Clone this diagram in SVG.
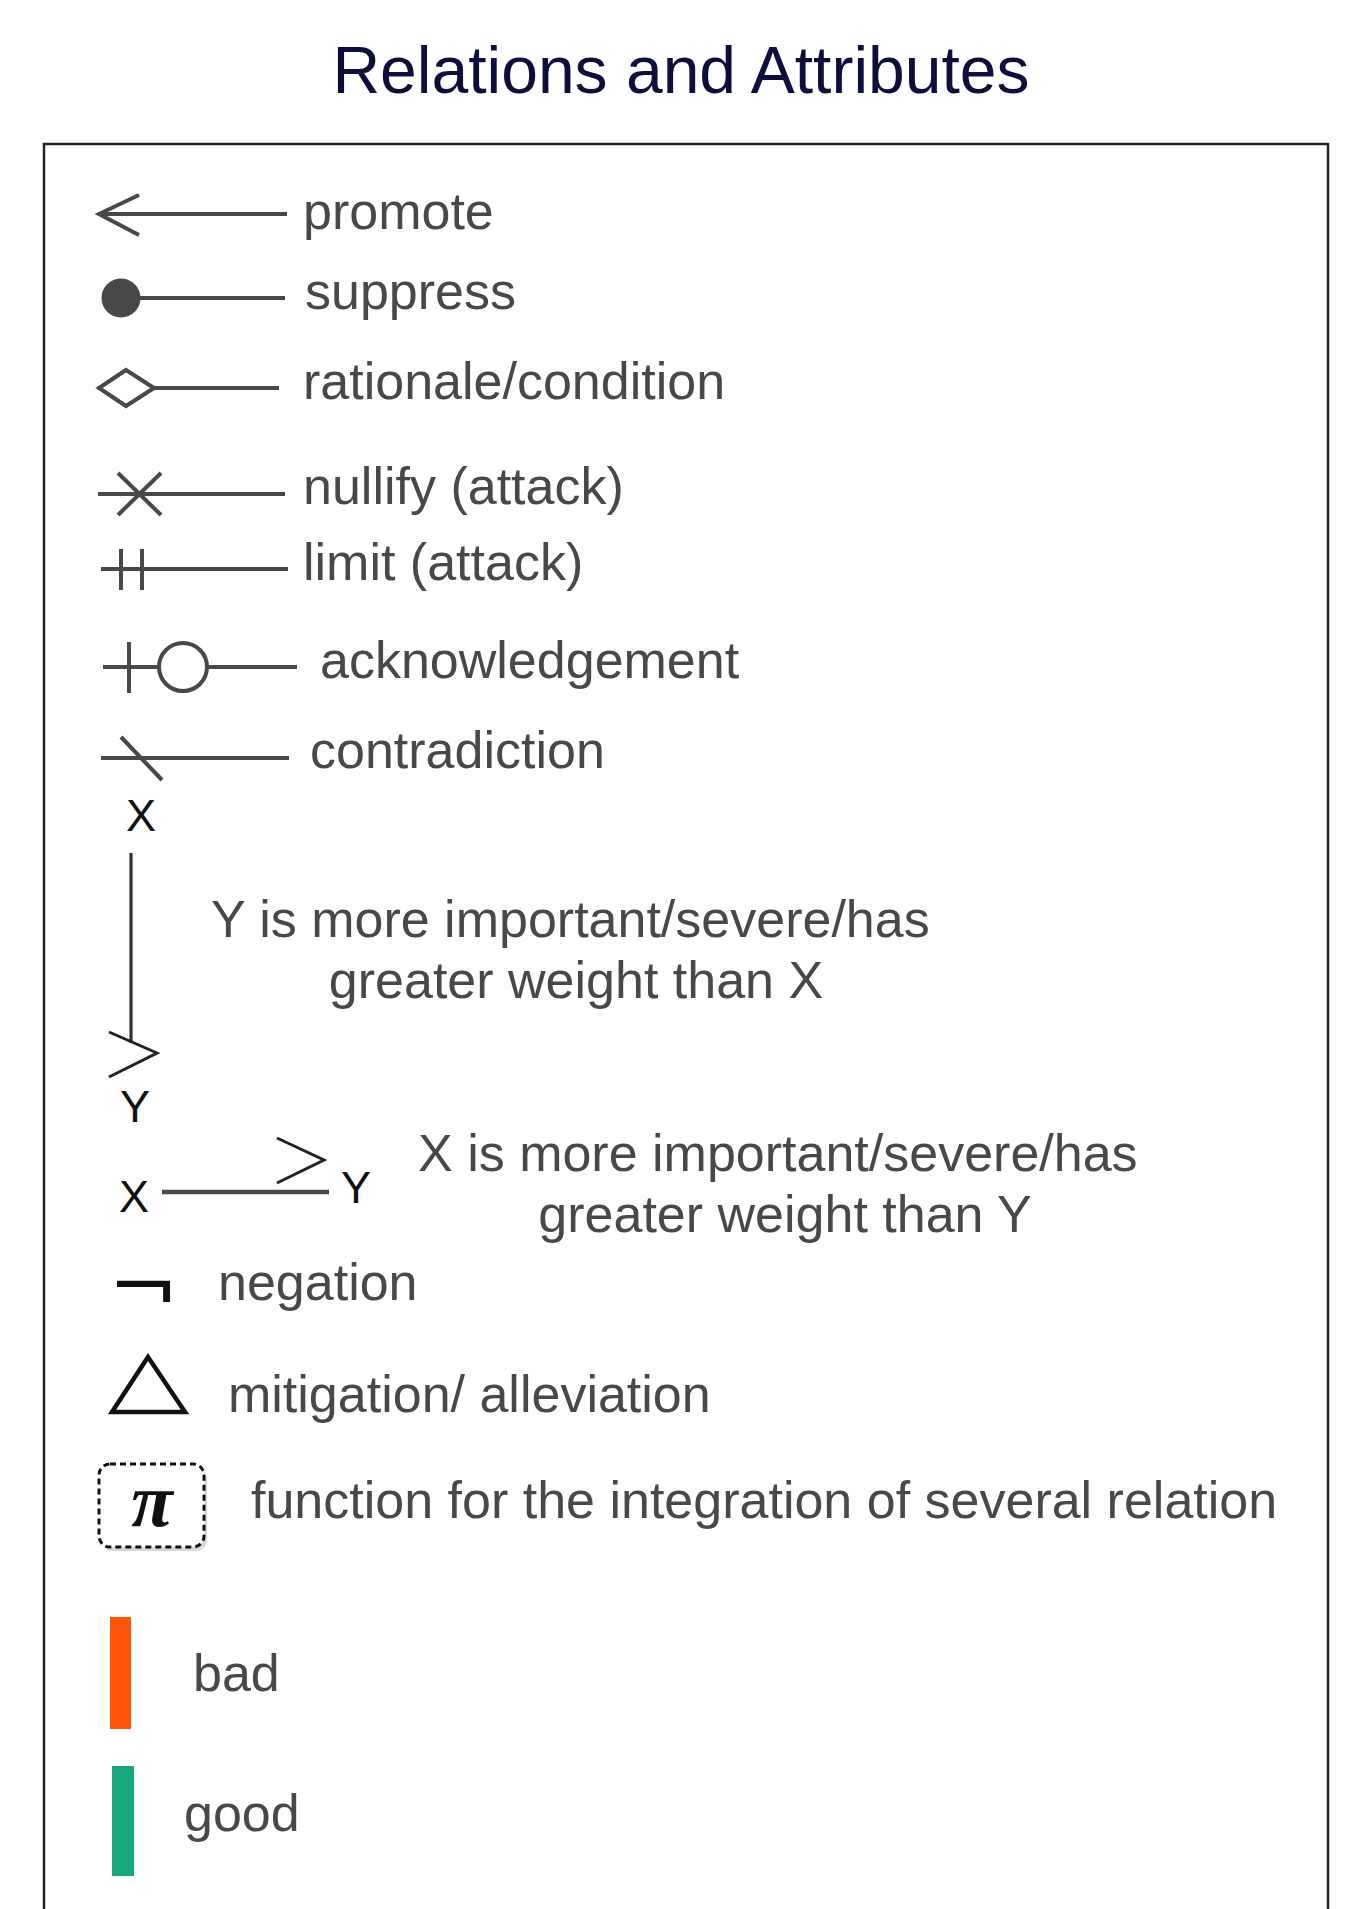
<svg xmlns="http://www.w3.org/2000/svg" width="1355" height="1909" viewBox="0 0 1355 1909">
<style>
.t{font-family:"Liberation Sans",Arial,Helvetica,sans-serif;font-size:52px;fill:#484848}
.lab{font-family:"Liberation Sans",Arial,Helvetica,sans-serif;font-size:45px;fill:#111}
.ln{stroke:#484848;stroke-width:4;fill:none;stroke-linecap:butt}
.blk{stroke:#222;stroke-width:3;fill:none}
</style>
<rect width="1355" height="1909" fill="#fff"/>
<text id="title" x="681" y="93" text-anchor="middle" style="font-family:'Liberation Sans',Arial,sans-serif;font-size:66px;fill:#0e0e3c">Relations and Attributes</text>
<rect id="frame" x="44" y="144" width="1284" height="1820" fill="none" stroke="#222" stroke-width="2.5"/>

<g id="connectors">
  <line class="ln" x1="98" y1="214" x2="287" y2="214"/>
  <polyline class="ln" points="139,195 99,214 139,235"/>
  <circle cx="121" cy="298" r="19.5" fill="#484848"/>
  <line class="ln" x1="140" y1="298" x2="285" y2="298"/>
  <polygon class="ln" points="99,388 126,370 154,388 126,406" fill="#fff"/>
  <line class="ln" x1="154" y1="388" x2="279" y2="388"/>
  <line class="ln" x1="98" y1="494" x2="285" y2="494"/>
  <line class="ln" x1="118" y1="473" x2="161" y2="515"/>
  <line class="ln" x1="161" y1="473" x2="118" y2="515"/>
  <line class="ln" x1="101" y1="569" x2="288" y2="569"/>
  <line class="ln" x1="121" y1="549" x2="121" y2="590"/>
  <line class="ln" x1="142" y1="549" x2="142" y2="590"/>
  <line class="ln" x1="103" y1="667" x2="159" y2="667"/>
  <line class="ln" x1="129" y1="642" x2="129" y2="693"/>
  <circle class="ln" cx="183" cy="667" r="24"/>
  <line class="ln" x1="207" y1="667" x2="297" y2="667"/>
  <line class="ln" x1="101" y1="758" x2="289" y2="758"/>
  <line class="ln" x1="121" y1="737" x2="162" y2="780"/>
  <line x1="131" y1="853" x2="131" y2="1043" stroke="#333" stroke-width="3.2"/>
  <polyline class="blk" points="109,1032 157,1053 109,1077"/>
  <line class="ln" x1="162" y1="1192" x2="329" y2="1192" style="stroke-width:4.5"/>
  <polyline class="blk" points="277,1138 324,1160 277,1183"/>
</g>

<g id="promote"><text class="t" x="303" y="229">promote</text></g>
<g id="suppress"><text class="t" x="305" y="309">suppress</text></g>
<g id="rationale"><text class="t" x="303" y="399">rationale/condition</text></g>
<g id="nullify"><text class="t" x="303" y="504">nullify (attack)</text></g>
<g id="limit"><text class="t" x="303" y="580">limit (attack)</text></g>
<g id="acknowledgement"><text class="t" x="320" y="678">acknowledgement</text></g>
<g id="contradiction"><text class="t" x="310" y="768">contradiction</text></g>

<g id="y-greater">
  <text class="lab" x="141" y="831" text-anchor="middle">X</text>
  <text class="lab" x="135" y="1122" text-anchor="middle">Y</text>
  <text class="t" x="211" y="937">Y is more important/severe/has</text>
  <text class="t" x="576" y="998" text-anchor="middle">greater weight than X</text>
</g>

<g id="x-greater">
  <text class="lab" x="134" y="1212" text-anchor="middle">X</text>
  <text class="lab" x="356" y="1203" text-anchor="middle">Y</text>
  <text class="t" x="418" y="1171">X is more important/severe/has</text>
  <text class="t" x="785" y="1232" text-anchor="middle">greater weight than Y</text>
</g>

<g id="negation">
  <text transform="translate(108,1313) scale(1.06,0.95)" style="font-family:'DejaVu Sans',sans-serif;font-size:80px;fill:#111">¬</text>
  <text class="t" x="218" y="1300">negation</text>
</g>

<g id="mitigation">
  <polygon points="148,1357 112,1412 185,1412" fill="none" stroke="#111" stroke-width="4.5"/>
  <text class="t" x="228" y="1412">mitigation/ alleviation</text>
</g>

<g id="function">
  <rect x="102" y="1468" width="105" height="83" rx="11" fill="#aaa" opacity="0.45"/>
  <rect x="99" y="1464" width="105" height="83" rx="11" fill="#fff" stroke="#111" stroke-width="3" stroke-dasharray="6 4"/>
  <text x="152" y="1526" text-anchor="middle" style="font-family:'Liberation Serif','Times New Roman',serif;font-style:italic;font-weight:bold;font-size:76px;fill:#111">π</text>
  <text class="t" x="251" y="1518">function for the integration of several relation</text>
</g>

<g id="bad">
  <rect x="110" y="1617" width="21" height="112" fill="#ff5309"/>
  <text class="t" x="193" y="1691">bad</text>
</g>

<g id="good">
  <rect x="112" y="1766" width="22" height="110" fill="#17a77d"/>
  <text class="t" x="184" y="1831">good</text>
</g>
</svg>
